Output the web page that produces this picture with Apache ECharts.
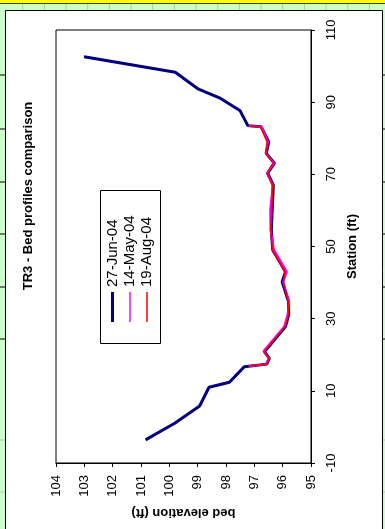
<!DOCTYPE html>
<html><head><meta charset="utf-8">
<script src="https://cdn.jsdelivr.net/npm/echarts@6/dist/echarts.min.js"></script>
<style>html,body{margin:0;padding:0;background:#ccffcc}#c{width:385px;height:529px}</style>
</head><body><div id="c"></div>
<script>
// Chart is shown rotated 90° CCW: elevation runs along the bottom, station up the right side.
const seriesNames = ['27-Jun-04', '14-May-04', '19-Aug-04'];
const seriesColors = ['#000080', '#FF00FF', '#FF0000'];
const stationTicks = [-10, 10, 30, 50, 70, 90, 110];
const elevTicks = [104, 103, 102, 101, 100, 99, 98, 97, 96, 95];

// [bed elevation (ft), station (ft)]
const jun27 = [
  [100.84, -3.6], [99.81, 1.0], [98.93, 5.8], [98.60, 11.0], [97.88, 12.4],
  [97.35, 16.7], [96.56, 17.4], [96.47, 19.0], [96.64, 20.8], [95.90, 27.8],
  [95.79, 31.0], [95.79, 34.7], [96.02, 40.2], [95.90, 43.0], [96.35, 49.0],
  [96.40, 54.6], [96.37, 60.0], [96.33, 67.0], [96.53, 70.3], [96.29, 73.1],
  [96.58, 75.8], [96.49, 79.0], [96.76, 83.2], [97.23, 83.5], [97.50, 87.6],
  [98.23, 91.2], [98.97, 93.6], [99.79, 98.3], [103.01, 102.6]
];
const may14 = [
  [97.20, 16.8], [96.60, 17.4], [96.48, 19.0], [96.68, 21.0], [95.95, 27.8],
  [95.83, 31.0], [95.77, 34.7], [95.98, 40.2], [95.85, 43.0], [96.30, 49.0],
  [96.43, 54.6], [96.44, 60.0], [96.35, 67.0], [96.55, 70.3], [96.31, 73.1],
  [96.60, 75.8], [96.52, 79.0], [96.74, 83.2], [97.20, 83.4]
];
const aug19 = [
  [97.17, 16.9], [96.56, 17.4], [96.47, 19.0], [96.66, 20.8], [95.92, 27.8],
  [95.80, 31.0], [95.80, 34.7], [95.97, 40.2], [95.92, 43.0], [96.36, 49.0],
  [96.42, 54.6], [96.38, 60.0], [96.36, 67.0], [96.55, 70.3], [96.34, 73.1],
  [96.60, 75.8], [96.55, 79.0], [96.78, 83.2], [97.17, 83.4]
];

const FONT = 'Liberation Sans, Arial, sans-serif';
const chart = echarts.init(document.getElementById('c'), null, {renderer: 'canvas'});

// spreadsheet decoration behind the chart
const deco = [];
deco.push({type: 'rect', shape: {x: 0, y: 0, width: 385, height: 529}, style: {fill: '#ccffcc'}, z: -10, silent: true});
for (let k = 0; k < 18; k++) {
  const x = 22.7 + k * 21.67;
  deco.push({type: 'line', shape: {x1: x, y1: 3, x2: x, y2: 10}, style: {stroke: '#b0c8b0', lineWidth: 1}, z: -9, silent: true});
}
[75, 129, 182, 234, 287, 339].forEach(y => {
  deco.push({type: 'line', shape: {x1: 0, y1: y, x2: 5, y2: y}, style: {stroke: '#000', lineWidth: 1}, z: -9, silent: true});
  deco.push({type: 'line', shape: {x1: 382, y1: y, x2: 385, y2: y}, style: {stroke: '#000', lineWidth: 1}, z: -9, silent: true});
});
[440, 492].forEach(y => {
  deco.push({type: 'line', shape: {x1: 0, y1: y, x2: 5, y2: y}, style: {stroke: '#b0c8b0', lineWidth: 1}, z: -9, silent: true});
  deco.push({type: 'line', shape: {x1: 382, y1: y, x2: 385, y2: y}, style: {stroke: '#b0c8b0', lineWidth: 1}, z: -9, silent: true});
});
deco.push({type: 'rect', shape: {x: 0, y: 0, width: 385, height: 3}, style: {fill: '#ffff00'}, z: -8, silent: true});
deco.push({type: 'line', shape: {x1: 0, y1: 3.5, x2: 385, y2: 3.5}, style: {stroke: '#404000', lineWidth: 1}, z: -8, silent: true});
deco.push({type: 'rect', shape: {x: 5.5, y: 10.5, width: 377, height: 530}, style: {fill: '#ffffff', stroke: '#000', lineWidth: 1}, z: -7, silent: true});

// title
deco.push({type: 'text', x: 28, y: 196, rotation: Math.PI / 2, z: 50,
  style: {text: 'TR3 - Bed profiles comparison', font: 'bold 13px ' + FONT, fill: '#000', align: 'center', verticalAlign: 'middle'}});

// legend (rotated)
deco.push({type: 'rect', shape: {x: 100.5, y: 190.5, width: 60, height: 153}, style: {fill: '#fff', stroke: '#000', lineWidth: 1}, z: 50});
const legX = [112.5, 130, 147];
seriesNames.forEach((n, i) => {
  deco.push({type: 'line', shape: {x1: legX[i], y1: 292, x2: legX[i], y2: 322},
    style: {stroke: seriesColors[i], lineWidth: i === 0 ? 3 : 1.5}, z: 51});
  deco.push({type: 'text', x: legX[i], y: 287, rotation: Math.PI / 2, z: 51,
    style: {text: n, font: '15px ' + FONT, fill: '#000', align: 'left', verticalAlign: 'middle'}});
});

chart.setOption({
  animation: false,
  backgroundColor: '#ccffcc',
  graphic: deco,
  grid: {left: 56, right: 74, top: 30, bottom: 66, show: true, borderColor: '#000', borderWidth: 1, backgroundColor: 'transparent', containLabel: false},
  xAxis: {
    type: 'value', min: 95, max: 104, interval: 1, inverse: true, position: 'bottom',
    name: 'bed elevation (ft)', nameLocation: 'middle', nameRotate: 180, nameGap: 43,
    nameTextStyle: {fontFamily: FONT, fontWeight: 'bold', fontSize: 13, color: '#000'},
    axisLine: {show: true, onZero: false, lineStyle: {color: '#000', width: 1}},
    axisTick: {show: true, length: 4, lineStyle: {color: '#000'}},
    axisLabel: {rotate: 90, margin: 12, fontFamily: FONT, fontSize: 13, color: '#000',
      customValues: elevTicks},
    splitLine: {show: false}
  },
  yAxis: {
    type: 'value', min: -10, max: 110, interval: 10, position: 'right',
    name: 'Station (ft)', nameLocation: 'middle', nameRotate: 90, nameGap: 35,
    nameTextStyle: {fontFamily: FONT, fontWeight: 'bold', fontSize: 13, color: '#000'},
    axisLine: {show: true, onZero: false, lineStyle: {color: '#000', width: 1}},
    axisTick: {show: true, length: 4, lineStyle: {color: '#000'}, customValues: stationTicks},
    axisLabel: {rotate: 90, margin: 14, fontFamily: FONT, fontSize: 13, color: '#000', customValues: stationTicks},
    splitLine: {show: false}
  },
  series: [
    {name: seriesNames[0], type: 'line', data: jun27, showSymbol: false, symbol: 'none', lineStyle: {color: seriesColors[0], width: 3}, z: 3},
    {name: seriesNames[1], type: 'line', data: may14, showSymbol: false, symbol: 'none', lineStyle: {color: seriesColors[1], width: 2}, z: 4},
    {name: seriesNames[2], type: 'line', data: aug19, showSymbol: false, symbol: 'none', lineStyle: {color: seriesColors[2], width: 1.5}, z: 5}
  ]
});
</script></body></html>
